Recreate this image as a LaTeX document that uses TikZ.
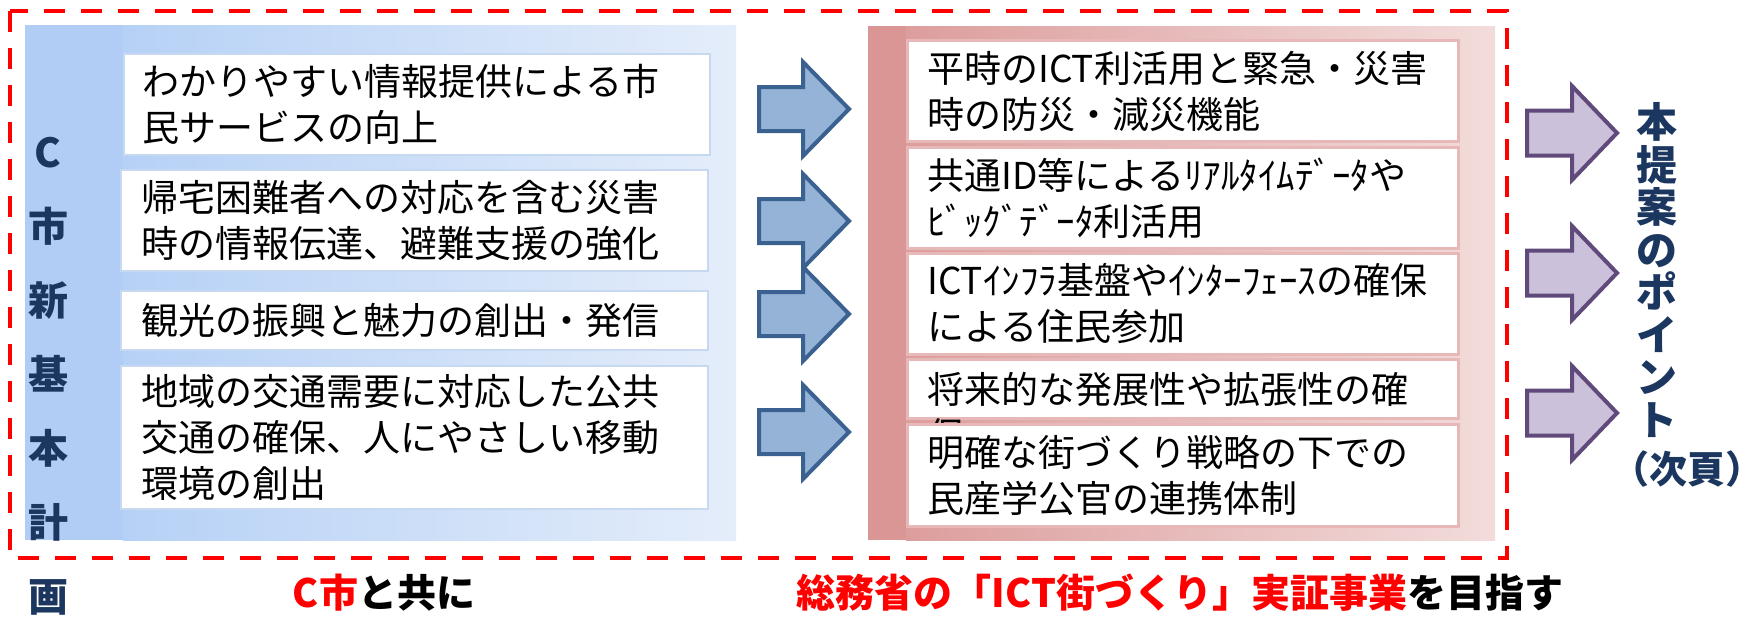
\documentclass[tikz,border=0pt]{standalone}
\usepackage{fontspec}
\setmainfont{Noto Sans CJK JP}
\newcommand{\tightlines}{\lineskiplimit=-100pt\relax\lineskip=0pt\relax}
\definecolor{dashred}{HTML}{FF0000}
\definecolor{bluestrip}{HTML}{B1CDF5}
\definecolor{blueL}{HTML}{B6D1F6}
\definecolor{blueR}{HTML}{E4EDFA}
\definecolor{redstrip}{HTML}{D99694}
\definecolor{redL}{HTML}{DC9E9D}
\definecolor{redR}{HTML}{F2DCDB}
\definecolor{lborder}{HTML}{C6D9F1}
\definecolor{rborder}{HTML}{E6B9B8}
\definecolor{navy}{HTML}{1B365F}
\definecolor{arrowfill}{HTML}{95B3D7}
\definecolor{arrowline}{HTML}{3A6190}
\definecolor{pfill}{HTML}{CCC1DA}
\definecolor{pline}{HTML}{604A7B}
\tikzset{
  lbox/.style={draw=lborder, line width=2pt, fill=white, inner sep=0pt, anchor=north west},
  rbox/.style={draw=rborder, line width=3pt, fill=white, inner sep=0pt, anchor=north west, minimum width=551pt},
  boxtext/.style={align=left, inner sep=0pt, anchor=west, text=black, font=\fontsize{37}{46}\selectfont},
  boldlabel/.style={inner sep=0pt, font=\fontsize{39}{46}\selectfont\bfseries},
  bluearrow/.pic={\draw[fill=arrowfill, draw=arrowline, line width=4pt, line join=miter]
     (0,-22) -- (44,-22) -- (44,-47) -- (90,0) -- (44,47) -- (44,22) -- (0,22) -- cycle;},
  purplearrow/.pic={\draw[fill=pfill, draw=pline, line width=4pt, line join=miter]
     (0,-22.5) -- (45,-22.5) -- (45,-47) -- (90,0) -- (45,47) -- (45,22.5) -- (0,22.5) -- cycle;}
}
\begin{document}
\begin{tikzpicture}[x=1pt,y=-1pt]
\useasboundingbox (0,0) rectangle (1748,619);
\fill[white] (0,0) rectangle (1748,619);

% left (blue) panel
\fill[bluestrip] (25,25) rectangle (123,540);
\shade[left color=blueL, right color=blueR] (123,25) rectangle (736,540);

% right (red) panel
\fill[redstrip] (868,26) rectangle (906,540);
\shade[left color=redL, right color=redR] (906,26) rectangle (1495,540);

% dashed frame
\draw[dashred, line width=4pt, dash pattern=on 21pt off 16pt, line join=miter] (10,11) rectangle (1507,558);

% left boxes
\node[lbox, minimum width=586pt, minimum height=101pt] (l1) at (123,53) {};
\node[boxtext] (t1) at ([xshift=19pt]l1.west) {わかりやすい情報提供による市\\民サービスの向上};
\node[lbox, minimum width=587pt, minimum height=101pt] (l2) at (120,169) {};
\node[boxtext] (t2) at ([xshift=21pt]l2.west) {帰宅困難者への対応を含む災害\\時の情報伝達、避難支援の強化};
\node[lbox, minimum width=587pt, minimum height=59pt] (l3) at (120,290) {};
\node[boxtext] (t3) at ([xshift=21pt]l3.west) {観光の振興と魅力の創出・発信};
\node[lbox, minimum width=587pt, minimum height=143pt] (l4) at (120,365) {};
\node[boxtext] (t4) at ([xshift=21pt]l4.west) {地域の交通需要に対応した公共\\交通の確保、人にやさしい移動\\環境の創出};

% vertical title left
\node[align=center, inner sep=0pt, text=navy, font=\fontsize{40}{74}\selectfont\bfseries] (plan) at (48,376) {C\\市\\新\\基\\本\\計\\画};

% blue arrows
\pic at (759,109) {bluearrow};
\pic at (759,221) {bluearrow};
\pic at (759,314) {bluearrow};
\pic at (759,432) {bluearrow};

% right boxes
\node[rbox, minimum height=101pt] (r1) at (906,39) {};
\node[boxtext] (s1) at ([xshift=21pt]r1.west) {平時のICT利活用と緊急・災害\\時の防災・減災機能};
\node[rbox, minimum height=101pt] (r2) at (906,146) {};
\node[boxtext] (s2) at ([xshift=21pt]r2.west) {共通ID等によるﾘｱﾙﾀｲﾑﾃﾞｰﾀや\\ﾋﾞｯｸﾞﾃﾞｰﾀ利活用};
\node[rbox, minimum height=101pt] (r3) at (906,252) {};
\node[boxtext] (s3) at ([xshift=21pt]r3.west) {ICTｲﾝﾌﾗ基盤やｲﾝﾀｰﾌｪｰｽの確保\\による住民参加};
\node[rbox, minimum height=59pt] (r4) at (906,358) {};
\node[boxtext] (s4) at ([xshift=21pt, yshift=-23pt]r4.west) {将来的な発展性や拡張性の確\\保};
\node[rbox, minimum height=102pt] (r5) at (906,423) {};
\node[boxtext] (s5) at ([xshift=21pt]r5.west) {明確な街づくり戦略の下での\\民産学公官の連携体制};

% purple arrows
\pic at (1527,133) {purplearrow};
\pic at (1527,273) {purplearrow};
\pic at (1527,413) {purplearrow};

% vertical title right
\node[align=center, inner sep=0pt, text=navy, font=\fontsize{41}{42.5}\selectfont\tightlines\bfseries] (point) at (1657,270) {本\\提\\案\\の\\ポ\\イ\\ン\\ト};
\node[inner sep=0pt, text=navy, font=\fontsize{38}{40}\selectfont\bfseries] (next) at (1687,469) {（次頁）};

% bottom labels
\node[boldlabel] (with) at (384,593) {\textcolor{dashred}{C市}と共に};
\node[boldlabel] (goal) at (1180,593) {\textcolor{dashred}{総務省の「ICT街づくり」実証事業}を目指す};
\end{tikzpicture}
\end{document}
